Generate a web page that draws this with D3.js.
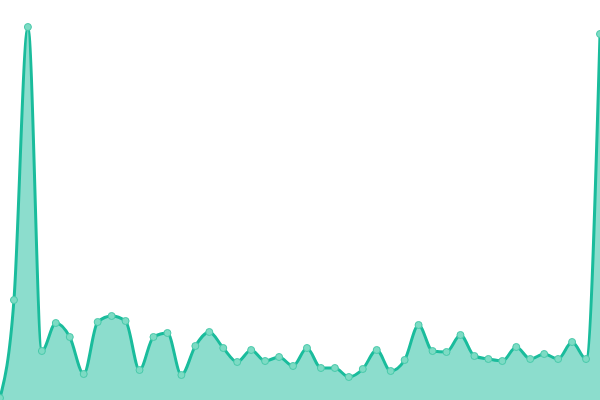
<!DOCTYPE html>
<html lang="en">
<head>
<meta charset="UTF-8">
<script src="https://d3js.org/d3.v7.min.js"></script>
<style>
  html, body { margin: 0; padding: 0; background: #fff; }
</style>
</head>
<body>
<div id="chart"></div>
<script>

// values, one per point
var index = d3.range(44);
var values = [2, 100, 373, 49, 77, 63, 26, 78, 84, 79, 30, 63, 67, 25, 54, 68, 52, 38, 50, 39,
  43, 34, 52, 32, 32, 23, 31, 50, 29, 40, 75, 49, 48, 65, 44, 41, 39, 53, 41, 46,
  41, 58, 41, 366];

var width = 600, height = 400;

var svg = d3.select("#chart")
.append("svg")
.attr("width", width)
.attr("height", height);

var x_scale = d3.scaleLinear()
.domain([0, index.length - 1])
.range([0, width]);

var y_scale = d3.scaleLinear()
.domain([0, 400])
.range([height, 0]);

var area = d3.area()
.x(function (d, i) { return x_scale(index[i]); })
.y0(height)
.y1(function (d) { return y_scale(d); })
.curve(d3.curveMonotoneX);

var line = d3.line()
.x(function (d, i) { return x_scale(index[i]); })
.y(function (d) { return y_scale(d); })
.curve(d3.curveMonotoneX);

svg.append("path")
.datum(values)
.attr("d", area)
.style("fill", "#1abc9c")
.style("fill-opacity", 0.5);

svg.append("path")
.datum(values)
.attr("d", line)
.style("fill", "none")
.style("stroke", "#1abc9c")
.style("stroke-width", 3);

svg.append("g")
.selectAll("circle")
.data(values)
.enter()
.append("circle")
.attr("cx", function (d, i) { return x_scale(index[i]); })
.attr("cy", function (d) { return y_scale(d); })
.attr("r", 3.5)
.style("fill", "#7ddbc4")
.style("stroke", "#48c9aa")
.style("stroke-width", 1);

</script>
</body>
</html>
